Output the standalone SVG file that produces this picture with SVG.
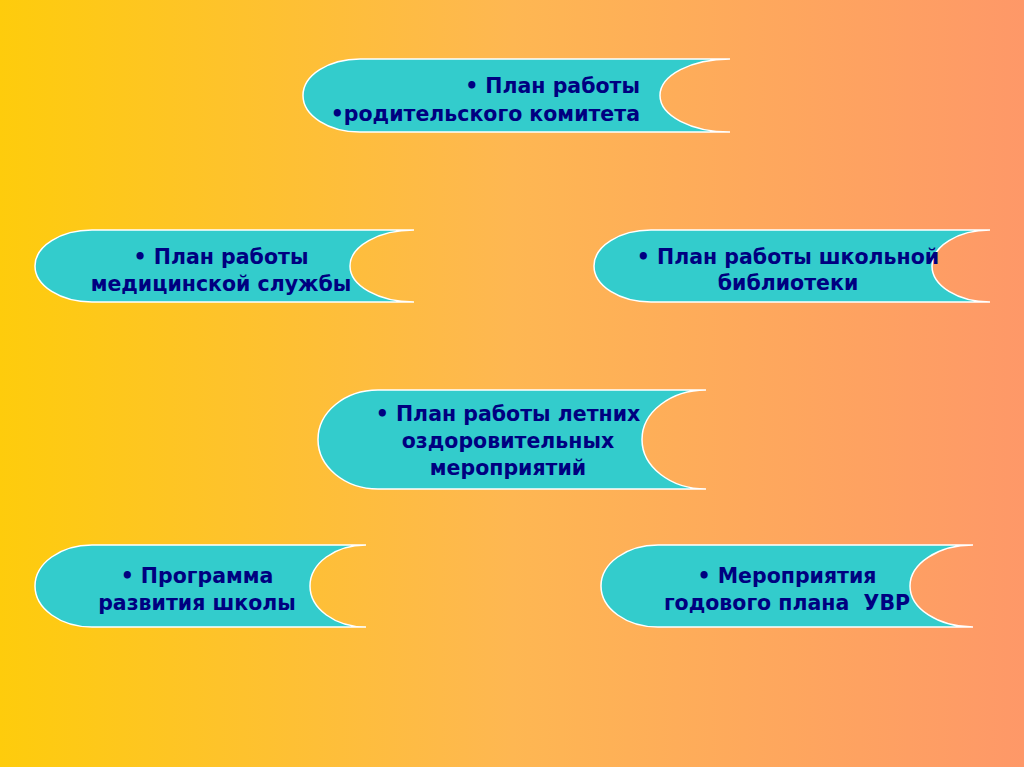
<svg xmlns="http://www.w3.org/2000/svg" width="1024" height="767" viewBox="0 0 1024 767">
<defs>
<linearGradient id="bg" x1="0" y1="0" x2="1" y2="0">
<stop offset="0" stop-color="#FECC0C"/>
<stop offset="0.5" stop-color="#FEB752"/>
<stop offset="1" stop-color="#FE9868"/>
</linearGradient>
</defs>
<style>
.sh{fill:#33CCCC;stroke:#FFFFFF;stroke-width:1.5}
.t{font-family:"DejaVu Sans",Verdana,sans-serif;font-weight:bold;font-size:20.5px;fill:#000080}
.c{text-anchor:middle}
.r{text-anchor:end}
</style>
<rect x="0" y="0" width="1024" height="767" fill="url(#bg)"/>
<g id="connectors"/>
<g id="node1">
<path class="sh" d="M360 59 H730 A70 36.5 0 0 0 730 132 H360 A57 36.5 0 0 1 360 59 Z"/>
<text class="t r" x="640" y="93">• План работы</text>
<text class="t r" x="640" y="121">•родительского комитета</text>
</g>
<g id="node2">
<path class="sh" d="M92 230 H414 A64 36 0 0 0 414 302 H92 A57 36 0 0 1 92 230 Z"/>
<text class="t c" x="221" y="264">• План работы</text>
<text class="t c" x="221" y="291">медицинской службы</text>
</g>
<g id="node3">
<path class="sh" d="M651 230 H990 A58 36 0 0 0 990 302 H651 A57 36 0 0 1 651 230 Z"/>
<text class="t c" x="788" y="264">• План работы школьной</text>
<text class="t c" x="788" y="290">библиотеки</text>
</g>
<g id="node4">
<path class="sh" d="M378 390 H706 A64 49.5 0 0 0 706 489 H378 A60 49.5 0 0 1 378 390 Z"/>
<text class="t c" x="508" y="421">• План работы летних</text>
<text class="t c" x="508" y="448">оздоровительных</text>
<text class="t c" x="508" y="475">мероприятий</text>
</g>
<g id="node5">
<path class="sh" d="M92 545 H366 A56 41 0 0 0 366 627 H92 A57 41 0 0 1 92 545 Z"/>
<text class="t c" x="197" y="583">• Программа</text>
<text class="t c" x="197" y="610">развития школы</text>
</g>
<g id="node6">
<path class="sh" d="M658 545 H973 A63 41 0 0 0 973 627 H658 A57 41 0 0 1 658 545 Z"/>
<text class="t c" x="787" y="583">• Мероприятия</text>
<text class="t c" x="787" y="610">годового плана&#160; УВР</text>
</g>
</svg>
